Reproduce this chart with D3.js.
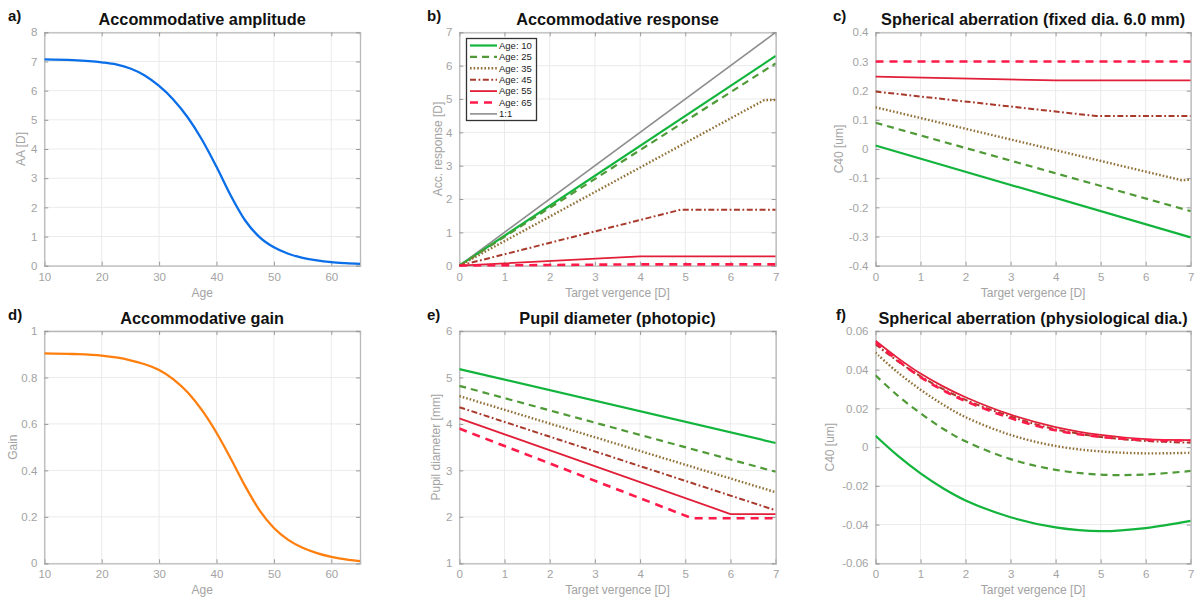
<!DOCTYPE html>
<html>
<head>
<meta charset="utf-8">
<script src="https://cdn.jsdelivr.net/npm/d3@7"></script>
<style>
  html, body { margin: 0; padding: 0; background: #fff; }
  svg { display: block; font-family: "Liberation Sans", Arial, sans-serif; }
</style>
</head>
<body>
<svg id="chart" width="1197" height="602"></svg>
<script>
// ---- Data -------------------------------------------------------------
// a) accommodative amplitude vs age
const amplitudeAge   = [10, 15, 20, 22.5, 25, 27.5, 30, 32.5, 35, 37.5, 40, 42.5, 45, 47.5, 50, 52.5, 55, 57.5, 60, 62.5, 65];
const amplitudeValue = [7.07, 7.045, 6.97, 6.90, 6.76, 6.52, 6.16, 5.69, 5.08, 4.31, 3.39, 2.40, 1.55, 0.98, 0.63, 0.41, 0.27, 0.18, 0.12, 0.085, 0.06];

// d) accommodative gain vs age
const gainAge   = [10, 15, 20, 22.5, 25, 27.5, 30, 32.5, 35, 37.5, 40, 42.5, 45, 47.5, 50, 52.5, 55, 57.5, 60, 62.5, 65];
const gainValue = [0.904, 0.901, 0.894, 0.886, 0.874, 0.857, 0.832, 0.792, 0.735, 0.658, 0.562, 0.450, 0.332, 0.228, 0.152, 0.101, 0.067, 0.044, 0.028, 0.017, 0.009];

// Series ages shown in b), c), e), f)
const seriesAges = [10, 25, 35, 45, 55, 65];
const legendLabels = ["Age: 10", "Age: 25", "Age: 35", "Age: 45", "Age: 55", "Age: 65", "1:1"];

// b) accommodative response [D] vs target vergence [D] (break points of each series)
const responseAge10 = [[0, 0], [7, 6.29]];
const responseAge25 = [[0, 0], [7, 6.07]];
const responseAge35 = [[0, 0], [6.75, 4.97], [7, 4.97]];
const responseAge45 = [[0, 0], [4.9, 1.68], [7, 1.68]];
const responseAge55 = [[0, 0], [4.0, 0.28], [7, 0.28]];
const responseAge65 = [[0, 0], [4.0, 0.04], [7, 0.04]];
const responseUnity = [[0, 0], [7, 7]];

// c) C40 [um] at fixed 6.0 mm diameter vs target vergence
const fixedC40Age10 = [[0, 0.012], [7, -0.303]];
const fixedC40Age25 = [[0, 0.090], [7, -0.213]];
const fixedC40Age35 = [[0, 0.143], [6.8, -0.107], [7, -0.105]];
const fixedC40Age45 = [[0, 0.197], [4.9, 0.113], [7, 0.113]];
const fixedC40Age55 = [[0, 0.248], [4.0, 0.235], [7, 0.235]];
const fixedC40Age65 = [[0, 0.300], [7, 0.300]];

// e) photopic pupil diameter [mm] vs target vergence
const pupilAge10 = [[0, 5.18], [7, 3.59]];
const pupilAge25 = [[0, 4.82], [7, 2.97]];
const pupilAge35 = [[0, 4.60], [7, 2.53]];
const pupilAge45 = [[0, 4.36], [7, 2.14]];
const pupilAge55 = [[0, 4.12], [6.0, 2.06], [7, 2.06]];
const pupilAge65 = [[0, 3.90], [5.15, 1.97], [7, 1.97]];

// f) C40 [um] at physiological pupil diameter, sampled along target vergence
const vergenceSamples = [0, 0.5, 1, 1.5, 2, 3, 4, 5, 6, 7];
const physC40Age10 = [0.0059, -0.0045, -0.0135, -0.0212, -0.0275, -0.0362, -0.0414, -0.0434, -0.0418, -0.0381];
const physC40Age25 = [0.0371, 0.0265, 0.0175, 0.0095, 0.0030, -0.0062, -0.0117, -0.0142, -0.0141, -0.0123];
const physC40Age35 = [0.0488, 0.0385, 0.0297, 0.0220, 0.0155, 0.0063, 0.0006, -0.0022, -0.0032, -0.0029];
const physC40Age45 = [0.0531, 0.0443, 0.0366, 0.0300, 0.0244, 0.0158, 0.0092, 0.0053, 0.0032, 0.0023];
const physC40Age55 = [0.0550, 0.0460, 0.0380, 0.0314, 0.0258, 0.0168, 0.0104, 0.0063, 0.0041, 0.0036];
const physC40Age65 = [0.0541, 0.0446, 0.0362, 0.0294, 0.0238, 0.0150, 0.0087, 0.0053, 0.0037, 0.0034];

// Axis ticks
const ageTicks = [10, 20, 30, 40, 50, 60];
const vergenceTicks = [0, 1, 2, 3, 4, 5, 6, 7];
const amplitudeTicks = [0, 1, 2, 3, 4, 5, 6, 7, 8];
const responseTicks = [0, 1, 2, 3, 4, 5, 6, 7];
const fixedC40Ticks = [-0.4, -0.3, -0.2, -0.1, 0, 0.1, 0.2, 0.3, 0.4];
const gainTicks = [0, 0.2, 0.4, 0.6, 0.8, 1];
const pupilTicks = [1, 2, 3, 4, 5, 6];
const physC40Ticks = [-0.06, -0.04, -0.02, 0, 0.02, 0.04, 0.06];

// ---- Styles -----------------------------------------------------------
const seriesStyles = [
  { color: "#12b43c", dash: null,            width: 2.2 },
  { color: "#4f9a36", dash: "7,5",           width: 2.2 },
  { color: "#927038", dash: "1.6,2",         width: 2.4 },
  { color: "#a83a2c", dash: "6,2.5,1.8,2.5", width: 2.0 },
  { color: "#e11f38", dash: null,            width: 1.8 },
  { color: "#ff1a4a", dash: "8,6",           width: 2.6 }
];
const unityStyle = { color: "#8d8d8d", dash: null, width: 1.6 };

const svg = d3.select("#chart");
const tickColor = "#a3a3a3";
const frameColor = "#b9b9b9";
const gridColor = "#ebebeb";

function fmt(d) {
  if (d === 0) return "0";
  return String(+d.toFixed(2));
}

function panel(opts) {
  const { left, right, top, bottom } = opts;
  const x = d3.scaleLinear().domain(opts.xDomain).range([left, right]);
  const y = d3.scaleLinear().domain(opts.yDomain).range([bottom, top]);
  const g = svg.append("g");

  // grid
  g.append("g").selectAll("line").data(opts.xTicks).join("line")
    .attr("x1", d => x(d)).attr("x2", d => x(d))
    .attr("y1", top).attr("y2", bottom)
    .attr("stroke", gridColor).attr("stroke-width", 1);
  g.append("g").selectAll("line").data(opts.yTicks).join("line")
    .attr("x1", left).attr("x2", right)
    .attr("y1", d => y(d)).attr("y2", d => y(d))
    .attr("stroke", gridColor).attr("stroke-width", 1);

  // axes with inward ticks on all four sides
  const bottomAxis = d3.axisBottom(x).tickValues(opts.xTicks).tickSize(-4).tickPadding(7).tickFormat(fmt);
  const topAxis = d3.axisTop(x).tickValues(opts.xTicks).tickSize(-4).tickFormat("");
  const leftAxis = d3.axisLeft(y).tickValues(opts.yTicks).tickSize(-4).tickPadding(7).tickFormat(fmt);
  const rightAxis = d3.axisRight(y).tickValues(opts.yTicks).tickSize(-4).tickFormat("");

  const axes = [
    g.append("g").attr("transform", `translate(0,${bottom})`).call(bottomAxis),
    g.append("g").attr("transform", `translate(0,${top})`).call(topAxis),
    g.append("g").attr("transform", `translate(${left},0)`).call(leftAxis),
    g.append("g").attr("transform", `translate(${right},0)`).call(rightAxis)
  ];
  axes.forEach(a => {
    a.select(".domain").attr("stroke", frameColor).attr("stroke-width", 1.3);
    a.selectAll(".tick line").attr("stroke", "#9a9a9a").attr("stroke-width", 1);
    a.selectAll(".tick text").attr("fill", tickColor)
      .style("font-family", "'Liberation Sans', Arial, sans-serif").style("font-size", "11.5px");
  });

  // axis labels
  g.append("text")
    .attr("x", (left + right) / 2).attr("y", bottom + 31)
    .attr("text-anchor", "middle").attr("fill", tickColor)
    .style("font-size", "12px").text(opts.xLabel);
  g.append("text")
    .attr("transform", `translate(${opts.yLabelX},${(top + bottom) / 2}) rotate(-90)`)
    .attr("text-anchor", "middle").attr("fill", tickColor)
    .style("font-size", "12px").text(opts.yLabel);

  // title and panel letter
  g.append("text")
    .attr("x", (left + right) / 2).attr("y", top - 7)
    .attr("text-anchor", "middle").attr("fill", "#111")
    .style("font-size", "16.3px").style("font-weight", "bold").text(opts.title);
  g.append("text")
    .attr("x", opts.letterX).attr("y", top - 11)
    .attr("fill", "#111")
    .style("font-size", "15px").style("font-weight", "bold").text(opts.letter);

  const clipId = "clip-" + opts.letter.replace(")", "");
  g.append("clipPath").attr("id", clipId).append("rect")
    .attr("x", left).attr("y", top - 2).attr("width", right - left).attr("height", bottom - top + 3);

  const lines = g.append("g").attr("clip-path", `url(#${clipId})`);
  return { x, y, g, lines };
}

function drawSeries(p, pts, style, curve) {
  const line = d3.line().x(d => p.x(d[0])).y(d => p.y(d[1])).curve(curve || d3.curveLinear);
  p.lines.append("path").datum(pts)
    .attr("d", line)
    .attr("fill", "none")
    .attr("stroke", style.color)
    .attr("stroke-width", style.width)
    .attr("stroke-dasharray", style.dash)
    .attr("stroke-linejoin", "round");
}

const colX = [[44.3, 360], [459.3, 775.7], [875.5, 1190.7]];
const rowY = [[32.3, 265.7], [331, 563.3]];

// a) amplitude
const pa = panel({
  left: colX[0][0], right: colX[0][1], top: rowY[0][0], bottom: rowY[0][1],
  xDomain: [10, 65], yDomain: [0, 8], xTicks: ageTicks, yTicks: amplitudeTicks,
  xLabel: "Age", yLabel: "AA [D]", yLabelX: 25,
  title: "Accommodative amplitude", letter: "a)", letterX: 8
});
drawSeries(pa, d3.zip(amplitudeAge, amplitudeValue), { color: "#0a6ee8", dash: null, width: 2.3 }, d3.curveMonotoneX);

// b) response
const pb = panel({
  left: colX[1][0], right: colX[1][1], top: rowY[0][0], bottom: rowY[0][1],
  xDomain: [0, 7], yDomain: [0, 7], xTicks: vergenceTicks, yTicks: responseTicks,
  xLabel: "Target vergence [D]", yLabel: "Acc. response [D]", yLabelX: 442,
  title: "Accommodative response", letter: "b)", letterX: 427
});
drawSeries(pb, responseUnity, unityStyle);
[responseAge10, responseAge25, responseAge35, responseAge45, responseAge55, responseAge65]
  .forEach((s, i) => drawSeries(pb, s, seriesStyles[i]));

// legend
const legend = pb.g.append("g");
legend.append("rect")
  .attr("x", 466.5).attr("y", 38.5).attr("width", 70).attr("height", 82)
  .attr("fill", "#fff").attr("stroke", "#333").attr("stroke-width", 1.3);
const legendStyles = seriesStyles.concat([unityStyle]);
legendLabels.forEach((lab, i) => {
  const yy = 45.5 + i * 11.4;
  legend.append("line")
    .attr("x1", 470).attr("x2", 497).attr("y1", yy).attr("y2", yy)
    .attr("stroke", legendStyles[i].color)
    .attr("stroke-width", legendStyles[i].width)
    .attr("stroke-dasharray", legendStyles[i].dash);
  legend.append("text")
    .attr("x", 499).attr("y", yy + 3.3)
    .attr("fill", "#222").style("font-size", "9.5px").text(lab);
});

// c) fixed-diameter spherical aberration
const pc = panel({
  left: colX[2][0], right: colX[2][1], top: rowY[0][0], bottom: rowY[0][1],
  xDomain: [0, 7], yDomain: [-0.4, 0.4], xTicks: vergenceTicks, yTicks: fixedC40Ticks,
  xLabel: "Target vergence [D]", yLabel: "C40 [um]", yLabelX: 843,
  title: "Spherical aberration (fixed dia. 6.0 mm)", letter: "c)", letterX: 833
});
[fixedC40Age10, fixedC40Age25, fixedC40Age35, fixedC40Age45, fixedC40Age55, fixedC40Age65]
  .forEach((s, i) => drawSeries(pc, s, seriesStyles[i]));

// d) gain
const pd = panel({
  left: colX[0][0], right: colX[0][1], top: rowY[1][0], bottom: rowY[1][1],
  xDomain: [10, 65], yDomain: [0, 1], xTicks: ageTicks, yTicks: gainTicks,
  xLabel: "Age", yLabel: "Gain", yLabelX: 17,
  title: "Accommodative gain", letter: "d)", letterX: 8
});
drawSeries(pd, d3.zip(gainAge, gainValue), { color: "#ff7f0e", dash: null, width: 2.3 }, d3.curveMonotoneX);

// e) pupil diameter
const pe = panel({
  left: colX[1][0], right: colX[1][1], top: rowY[1][0], bottom: rowY[1][1],
  xDomain: [0, 7], yDomain: [1, 6], xTicks: vergenceTicks, yTicks: pupilTicks,
  xLabel: "Target vergence [D]", yLabel: "Pupil diameter [mm]", yLabelX: 440,
  title: "Pupil diameter (photopic)", letter: "e)", letterX: 427
});
[pupilAge10, pupilAge25, pupilAge35, pupilAge45, pupilAge55, pupilAge65]
  .forEach((s, i) => drawSeries(pe, s, seriesStyles[i]));

// f) physiological-diameter spherical aberration
const pf = panel({
  left: colX[2][0], right: colX[2][1], top: rowY[1][0], bottom: rowY[1][1],
  xDomain: [0, 7], yDomain: [-0.06, 0.06], xTicks: vergenceTicks, yTicks: physC40Ticks,
  xLabel: "Target vergence [D]", yLabel: "C40 [um]", yLabelX: 834,
  title: "Spherical aberration (physiological dia.)", letter: "f)", letterX: 836
});
[physC40Age10, physC40Age25, physC40Age35, physC40Age45, physC40Age55, physC40Age65]
  .forEach((vals, i) => drawSeries(pf, d3.zip(vergenceSamples, vals), seriesStyles[i], d3.curveCatmullRom));
</script>
</body>
</html>
